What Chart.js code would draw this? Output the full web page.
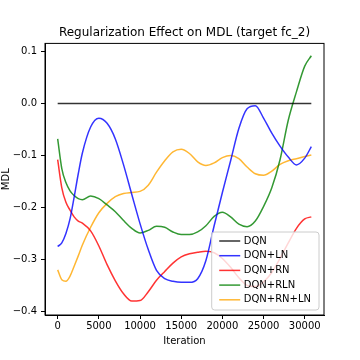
<!DOCTYPE html>
<html>
<head>
<meta charset="utf-8">
<script src="https://cdn.jsdelivr.net/npm/chart.js@4.4.0/dist/chart.umd.min.js"></script>
<style>
html, body { margin: 0; padding: 0; background: #fff; }
#mdlChart { display: block; }
</style>
</head>
<body>
<canvas id="mdlChart" width="360" height="360"></canvas>
<script>
//1) DATA//
const iterations = [0, 500, 1000, 1500, 2000, 2500, 3000, 4000, 5000, 6000, 7000, 8000, 9000, 10000,
   11000, 12000, 13000, 14000, 15000, 16000, 17000, 18000, 19000, 20000, 21000, 22000, 23000, 24000,
   25000, 26000, 27000, 28000, 29000, 30000, 30800];

const dqnIterations = [0, 30800];
const dqn = [0, 0];

const dqnLn = [-0.275, -0.268, -0.250, -0.222, -0.180, -0.135, -0.095, -0.045, -0.028, -0.038, -0.068,
   -0.118, -0.175, -0.231, -0.281, -0.321, -0.337, -0.342, -0.344, -0.344, -0.337, -0.302, -0.235,
   -0.171, -0.110, -0.048, -0.010, -0.004, -0.028, -0.057, -0.082, -0.103, -0.118, -0.105, -0.083];

const dqnRn = [-0.108, -0.162, -0.190, -0.205, -0.218, -0.226, -0.230, -0.245, -0.274, -0.310, -0.341,
   -0.366, -0.380, -0.379, -0.362, -0.340, -0.323, -0.307, -0.295, -0.289, -0.286, -0.284, -0.287,
   -0.298, -0.315, -0.335, -0.350, -0.352, -0.343, -0.325, -0.298, -0.268, -0.240, -0.222, -0.218];

const dqnRln = [-0.068, -0.125, -0.152, -0.168, -0.177, -0.183, -0.185, -0.178, -0.183, -0.195, -0.208,
   -0.225, -0.240, -0.249, -0.244, -0.236, -0.238, -0.247, -0.252, -0.252, -0.247, -0.235, -0.217,
   -0.209, -0.218, -0.232, -0.237, -0.226, -0.198, -0.162, -0.108, -0.032, 0.023, 0.072, 0.092];

const dqnRnLn = [-0.320, -0.339, -0.342, -0.332, -0.313, -0.293, -0.272, -0.238, -0.210, -0.192, -0.179,
   -0.173, -0.171, -0.169, -0.157, -0.132, -0.110, -0.093, -0.088, -0.096, -0.112, -0.119, -0.114,
   -0.104, -0.100, -0.106, -0.122, -0.135, -0.138, -0.130, -0.117, -0.110, -0.106, -0.102, -0.099];

const xTicks = [0, 5000, 10000, 15000, 20000, 25000, 30000];
const yTicks = [-0.4, -0.3, -0.2, -0.1, 0.0, 0.1];

const toPoints = (xs, ys) => xs.map((x, i) => ({ x: x, y: ys[i] }));

//2) PLUGINS//
const axesBox = {
   id: 'axesBox',
   afterDraw(chart) {
      const ctx = chart.ctx, a = chart.chartArea;
      ctx.save();
      ctx.strokeStyle = '#000';
      ctx.lineWidth = 1;
      ctx.strokeRect(a.left, a.top, a.right - a.left, a.bottom - a.top);
      ctx.restore();
   }
};

const boxLegend = {
   id: 'boxLegend',
   afterDraw(chart) {
      const ctx = chart.ctx, a = chart.chartArea;
      const sets = chart.data.datasets;
      ctx.save();
      ctx.font = '10px "DejaVu Sans"';
      const textW = Math.max(...sets.map(d => ctx.measureText(d.label).width));
      const rowH = 14.7;
      const w = textW + 40, h = sets.length * rowH + 4.5;
      const x0 = a.right - 5 - w, y0 = a.bottom - 5 - h;
      ctx.beginPath();
      ctx.roundRect(x0, y0, w, h, 3);
      ctx.fillStyle = 'rgba(255,255,255,0.8)';
      ctx.fill();
      ctx.strokeStyle = '#cccccc';
      ctx.lineWidth = 1;
      ctx.stroke();
      ctx.textBaseline = 'middle';
      ctx.textAlign = 'left';
      sets.forEach((d, i) => {
         const cy = y0 + 9 + i * rowH;
         ctx.beginPath();
         ctx.moveTo(x0 + 7.5, cy);
         ctx.lineTo(x0 + 28.5, cy);
         ctx.strokeStyle = d.borderColor;
         ctx.lineWidth = 1.5;
         ctx.stroke();
         ctx.fillStyle = '#000';
         ctx.fillText(d.label, x0 + 32, cy);
      });
      ctx.restore();
   }
};

//3) CHART//
const lineSet = (label, xs, ys, color) => ({
   label: label,
   data: toPoints(xs, ys),
   borderColor: color,
   borderWidth: 1.5,
   pointRadius: 0,
   fill: false,
   cubicInterpolationMode: 'monotone'
});

const ctx = document.getElementById('mdlChart').getContext('2d');
const mdlChart = new Chart(ctx, {
   type: 'line',
   data: {
      datasets: [
         lineSet('DQN', dqnIterations, dqn, 'rgba(0,0,0,0.8)'),
         lineSet('DQN+LN', iterations, dqnLn, 'rgba(0,0,255,0.8)'),
         lineSet('DQN+RN', iterations, dqnRn, 'rgba(255,0,0,0.8)'),
         lineSet('DQN+RLN', iterations, dqnRln, 'rgba(0,128,0,0.8)'),
         lineSet('DQN+RN+LN', iterations, dqnRnLn, 'rgba(255,165,0,0.8)')
      ]
   },
   options: {
      responsive: false,
      animation: false,
      layout: { padding: { left: 0, right: 36, top: 0, bottom: 0 } },
      plugins: {
         legend: { display: false },
         tooltip: { enabled: false },
         title: {
            display: true,
            fullSize: false,
            text: 'Regularization Effect on MDL (target fc_2)',
            color: '#000',
            font: { family: 'DejaVu Sans', size: 12, weight: 'normal' },
            padding: { top: 26, bottom: 3 }
         }
      },
      scales: {
         x: {
            type: 'linear',
            min: -1540,
            max: 32340,
            afterBuildTicks: axis => { axis.ticks = xTicks.map(v => ({ value: v })); },
            afterFit: axis => { axis.height = 45; },
            ticks: {
               color: '#000',
               font: { family: 'DejaVu Sans', size: 10 },
               padding: 1,
               maxRotation: 0,
               callback: v => String(v)
            },
            grid: { display: true, drawOnChartArea: false, drawTicks: true, tickLength: 4, color: '#000' },
            border: { display: true, color: '#000' },
            title: {
               display: true,
               text: 'Iteration',
               color: '#000',
               font: { family: 'DejaVu Sans', size: 10 },
               padding: { top: 0, bottom: 13 }
            }
         },
         y: {
            min: -0.4068,
            max: 0.1158,
            afterBuildTicks: axis => { axis.ticks = yTicks.map(v => ({ value: v })); },
            afterFit: axis => { axis.width = 45; },
            ticks: {
               color: '#000',
               font: { family: 'DejaVu Sans', size: 10 },
               padding: 4,
               callback: v => v.toFixed(1).replace('-', '\u2212')
            },
            grid: { display: true, drawOnChartArea: false, drawTicks: true, tickLength: 4, color: '#000' },
            border: { display: true, color: '#000' },
            title: {
               display: true,
               text: 'MDL',
               color: '#000',
               font: { family: 'DejaVu Sans', size: 10 },
               padding: 0
            }
         }
      }
   },
   plugins: [axesBox, boxLegend]
});
</script>
</body>
</html>
